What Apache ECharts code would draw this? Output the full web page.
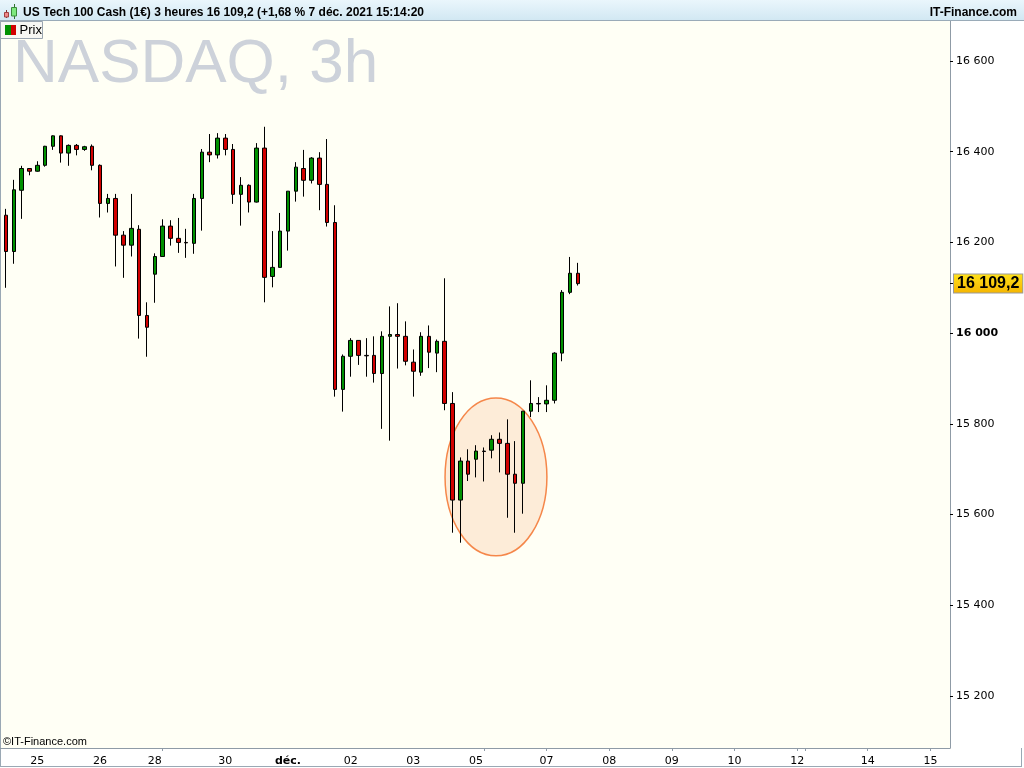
<!DOCTYPE html>
<html><head><meta charset="utf-8">
<script src="https://cdn.jsdelivr.net/npm/echarts@6/dist/echarts.min.js"></script>
<style>html,body{margin:0;padding:0;background:#fff}#c{width:1024px;height:768px}</style>
</head><body><div id="c"></div>
<script>
// ---- data (3h candles, US Tech 100) ----
const opens  = [16260,16180,16315,16363,16357,16370,16412,16435,16397,16414,16405,16412,16370,16286,16297,16216,16194,16229,16039,16130,16169,16236,16209,16200,16198,16297,16399,16393,16430,16405,16306,16326,16289,16408,16125,16145,16225,16313,16363,16337,16386,16328,16244,15876,15949,15984,15951,15951,15911,15993,15997,15993,15936,15914,15993,15956,15982,15845,15632,15718,15722,15740,15742,15766,15757,15689,15669,15828,15845,15844,15852,15956,16090,16132];
const closes = [16180,16316,16363,16357,16370,16412,16435,16397,16414,16405,16411,16370,16286,16297,16216,16194,16231,16039,16013,16169,16236,16209,16200,16199,16297,16399,16393,16430,16405,16306,16326,16289,16408,16123,16145,16225,16313,16366,16337,16386,16328,16244,15876,15949,15984,15951,15950,15911,15993,15997,15993,15938,15916,15993,15958,15982,15845,15632,15718,15689,15740,15739,15766,15757,15689,15669,15828,15845,15844,15852,15956,16090,16132,16109.2];
const lows   = [16100,16153,16252,16348,16356,16367,16404,16376,16369,16392,16402,16359,16255,16266,16147,16122,16169,15988,15948,16067,16169,16193,16177,16166,16175,16226,16377,16385,16392,16285,16237,16266,16288,16068,16101,16145,16182,16290,16301,16330,16271,16235,15860,15827,15904,15930,15904,15891,15789,15763,15922,15929,15860,15906,15923,15914,15830,15560,15538,15674,15682,15673,15724,15693,15593,15560,15602,15815,15826,15826,15845,15938,16086,16105];
const highs  = [16274,16338,16369,16364,16379,16413,16436,16436,16416,16417,16413,16416,16372,16307,16307,16225,16307,16238,16068,16176,16251,16249,16254,16230,16307,16406,16439,16441,16439,16417,16344,16328,16419,16455,16225,16265,16313,16377,16404,16388,16399,16428,16282,15953,15989,15984,15989,15993,16004,16059,16066,16026,15964,16002,16017,15986,16121,15870,15726,15744,15753,15748,15775,15781,15810,15762,15828,15896,15859,15885,15958,16095,16168,16155];

const slotCount = 121;               // 3h slots shown on the time axis (incl. future)
const dayLabels = ['25','26','28','30','déc.','02','03','05','07','08','09','10','12','14','15'];
const dayLabelSlots = [4,12,19,28,36,44,52,60,69,77,85,93,101,110,118];
const dayTickSlots = [20,61,69,77,85,93,101,102,110,118];
const yTicks = [15200,15400,15600,15800,16000,16200,16400,16600];
const yMin = 15085.4, yMax = 16690.4;
const lastPrice = 16109.2;
const highlight = {slot: 62, slotFrac: 0.55, value: 15683, slotRadius: 6.5, valueRadius: 174};
const titleText = 'US Tech 100 Cash (1€) 3 heures 16 109,2 (+1,68 % 7 déc. 2021 15:14:20';

// ---- helpers ----
function fmtNum(v, dec) {
  const s = dec ? v.toFixed(dec) : String(Math.round(v));
  const parts = s.split('.');
  parts[0] = parts[0].replace(/\B(?=(\d{3})+(?!\d))/g, ' ');
  return parts.join(',');
}
const categories = [];
for (let i = 0; i < slotCount; i++) categories.push('s' + i);
const labelAt = {};
dayLabelSlots.forEach((s, k) => { labelAt[s] = dayLabels[k]; });
const candleData = opens.map((o, i) => [o, closes[i], lows[i], highs[i]]);

const GREEN = '#009100', RED = '#d20000';
const AXIS = '#8f9ba6';
const FONT = '"DejaVu Sans", sans-serif';
const AFONT = '"Liberation Sans", Arial, sans-serif';

const chart = echarts.init(document.getElementById('c'), null, {renderer: 'canvas'});
const option = {
  animation: false,
  backgroundColor: '#ffffff',
  grid: {left: 2, right: 74, top: 20, bottom: 20, containLabel: false, outerBoundsMode: 'none'},
  xAxis: {
    type: 'category', data: categories, boundaryGap: true,
    axisLine: {show: true, lineStyle: {color: AXIS, width: 1}},
    axisTick: {show: true, alignWithLabel: true, length: 3, lineStyle: {color: AXIS},
      interval: (i) => dayTickSlots.indexOf(i) >= 0},
    axisLabel: {interval: 0, margin: 8, color: '#000', fontFamily: FONT, fontSize: 11,
      formatter: (v, i) => { const t = labelAt[i]; if (!t) return ''; return /^\d+$/.test(t) ? t : '{b|' + t + '}'; },
      rich: {b: {fontWeight: 'bold', fontFamily: FONT, fontSize: 11, color: '#000'}}},
    splitLine: {show: false}
  },
  yAxis: {
    type: 'value', position: 'right', min: yMin, max: yMax, scale: true,
    axisLine: {show: true, lineStyle: {color: AXIS, width: 1}},
    axisTick: {show: true, length: 3, lineStyle: {color: '#000'}, customValues: yTicks.concat([lastPrice])},
    axisLabel: {show: true, margin: 6, color: '#000', fontFamily: FONT, fontSize: 11, customValues: yTicks,
      formatter: (v) => { const s = fmtNum(v); return v % 1000 === 0 ? '{b|' + s + '}' : s; },
      rich: {b: {fontWeight: 'bold', fontFamily: FONT, fontSize: 11, color: '#000'}}},
    splitLine: {show: false}
  },
  series: [
    {
      type: 'custom', z: 1, silent: true, clip: false,
      data: [[highlight.slot, highlight.value]],
      renderItem: (params, api) => {
        const a = api.coord([highlight.slot, highlight.value]);
        const b = api.coord([highlight.slot + 1, highlight.value]);
        const slotPx = b[0] - a[0];
        const top = api.coord([highlight.slot, highlight.value + highlight.valueRadius]);
        const cx = a[0] + highlight.slotFrac * slotPx;
        return {
          type: 'ellipse',
          shape: {cx: cx, cy: a[1], rx: highlight.slotRadius * slotPx, ry: Math.abs(a[1] - top[1])},
          style: {fill: 'rgba(245,140,80,0.17)', stroke: '#f5874a', lineWidth: 1.5}
        };
      }
    },
    {
      type: 'candlestick', z: 2, data: candleData, barWidth: 4, clip: false,
      itemStyle: {color: GREEN, color0: RED, borderColor: '#000', borderColor0: '#000', borderColorDoji: '#000', borderWidth: 1},
      markLine: {
        silent: true, symbol: ['none', 'none'], animation: false,
        lineStyle: {color: 'rgba(0,0,0,0)', width: 0, type: 'solid'},
        label: {show: true, position: 'end', distance: 4, formatter: fmtNum(lastPrice, 1), opacity: 1,
          fontFamily: AFONT, fontWeight: 'bold', fontSize: 16, color: '#000', lineHeight: 16,
          padding: [1, 3, 1, 3], borderColor: '#9a9a9a', borderWidth: 1,
          backgroundColor: new echarts.graphic.LinearGradient(0, 0, 0, 1, [{offset: 0, color: '#ffe21a'}, {offset: 1, color: '#f5b400'}])},
        data: [{yAxis: lastPrice}]
      }
    }
  ],
  graphic: [
    // plot background
    {type: 'rect', z: -10, silent: true, shape: {x: 0, y: 20, width: 950, height: 728}, style: {fill: '#fffff5'}},
    // watermark
    {type: 'text', z: 0, silent: true, style: {text: 'NASDAQ, 3h', x: 13, y: 65, font: '62px "Liberation Sans", Arial, sans-serif', fill: '#cdd2da', textVerticalAlign: 'middle'}},
    // header bar
    {type: 'rect', z: 100, silent: true, shape: {x: 0, y: 0, width: 1024, height: 20},
      style: {fill: new echarts.graphic.LinearGradient(0, 0, 0, 1, [{offset: 0, color: '#eaf6fc'}, {offset: 1, color: '#d2e8f3'}])}},
    {type: 'line', z: 100, silent: true, shape: {x1: 0, y1: 20.5, x2: 1024, y2: 20.5}, style: {stroke: '#9aabb8', lineWidth: 1}},
    {type: 'text', z: 101, silent: true, style: {text: titleText, x: 23, y: 12.5, font: 'bold 12px "Liberation Sans", Arial, sans-serif', fill: '#000', textVerticalAlign: 'middle'}},
    {type: 'text', z: 101, silent: true, style: {text: 'IT-Finance.com', x: 1017, y: 12.5, font: 'bold 12px "Liberation Sans", Arial, sans-serif', fill: '#000', textAlign: 'right', textVerticalAlign: 'middle'}},
    // header icon
    {type: 'line', z: 101, silent: true, shape: {x1: 6.5, y1: 10, x2: 6.5, y2: 18}, style: {stroke: '#803030', lineWidth: 1}},
    {type: 'rect', z: 102, silent: true, shape: {x: 4.5, y: 12.5, width: 4, height: 4.5}, style: {fill: '#f08a8a', stroke: '#a04040', lineWidth: 1}},
    {type: 'line', z: 101, silent: true, shape: {x1: 14.5, y1: 4, x2: 14.5, y2: 19}, style: {stroke: '#307030', lineWidth: 1}},
    {type: 'rect', z: 102, silent: true, shape: {x: 11.5, y: 7.5, width: 5, height: 8.5}, style: {fill: '#7ee87e', stroke: '#3a8a3a', lineWidth: 1}},
    // legend box
    {type: 'rect', z: 100, silent: true, shape: {x: 0.5, y: 21.5, width: 42, height: 17}, style: {fill: '#f7f7f3', stroke: '#9aa5b0', lineWidth: 1}},
    {type: 'rect', z: 101, silent: true, shape: {x: 5, y: 25, width: 6, height: 10}, style: {fill: GREEN}},
    {type: 'rect', z: 101, silent: true, shape: {x: 11, y: 25, width: 5, height: 10}, style: {fill: RED}},
    {type: 'text', z: 101, silent: true, style: {text: 'Prix', x: 19.5, y: 30.5, font: '13px "Liberation Sans", Arial, sans-serif', fill: '#000', textVerticalAlign: 'middle'}},
    // copyright
    {type: 'text', z: 50, silent: true, style: {text: '©IT-Finance.com', x: 3, y: 741.5, font: '11px "Liberation Sans", Arial, sans-serif', fill: '#000', textVerticalAlign: 'middle'}},
    // frame lines
    {type: 'line', z: 50, silent: true, shape: {x1: 0.5, y1: 20, x2: 0.5, y2: 766}, style: {stroke: '#9aa8b4', lineWidth: 1}},
    {type: 'line', z: 50, silent: true, shape: {x1: 0, y1: 748.5, x2: 3, y2: 748.5}, style: {stroke: AXIS, lineWidth: 1}},
    {type: 'line', z: 50, silent: true, shape: {x1: 0, y1: 766.5, x2: 1022, y2: 766.5}, style: {stroke: '#9aa8b4', lineWidth: 1}},
    {type: 'line', z: 50, silent: true, shape: {x1: 1021.5, y1: 748, x2: 1021.5, y2: 767}, style: {stroke: '#9aa8b4', lineWidth: 1}}
  ]
};
chart.setOption(option);
</script>
</body></html>
